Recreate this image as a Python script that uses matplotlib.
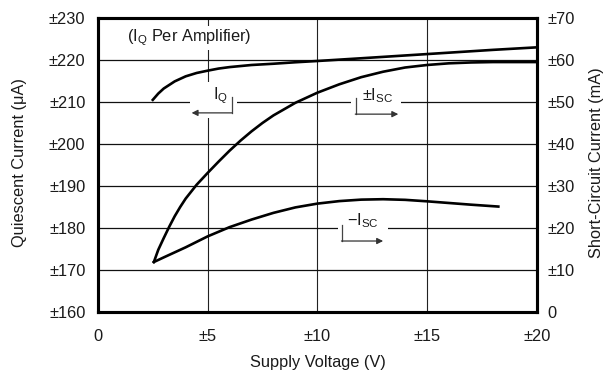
import matplotlib
matplotlib.use("Agg")
import matplotlib.pyplot as plt
from matplotlib.patches import Rectangle

plt.rcParams['font.family'] = ['Liberation Sans', 'DejaVu Sans']
plt.rcParams['mathtext.fontset'] = 'custom'
plt.rcParams['mathtext.rm'] = 'Liberation Sans'
plt.rcParams['mathtext.it'] = 'Liberation Sans'

# ---- data ----
iq_v = [2.5, 2.75, 3, 3.5, 4, 4.5, 5, 5.5, 6, 7, 8, 9, 10, 12, 15, 18, 20]
iq_ua = [210.5, 212.0, 213.2, 214.9, 216.1, 216.9, 217.45, 217.95, 218.3, 218.8, 219.1, 219.45, 219.75,
         220.4, 221.4, 222.4, 223.0]

isc_pos_v = [2.55, 2.75, 3.0, 3.25, 3.5, 3.75, 4.0, 4.5, 5, 5.5, 6, 6.5, 7, 7.5, 8, 9, 10, 11, 12, 13,
             14, 15, 16, 17, 18, 20]
isc_pos_ma = [11.9, 14.8, 17.6, 20.3, 22.8, 25.0, 27.0, 30.3, 33.1, 35.8, 38.4, 40.8, 43.0, 45.0, 46.8,
              49.8, 52.2, 54.2, 55.9, 57.2, 58.2, 58.8, 59.2, 59.4, 59.5, 59.5]

isc_neg_v = [2.55, 3, 3.5, 4, 4.5, 5, 6, 7, 8, 9, 10, 11, 12, 13, 14, 15, 16, 17, 18.25]
isc_neg_ma = [11.9, 13.0, 14.2, 15.4, 16.7, 18.0, 20.2, 22.0, 23.6, 24.9, 25.8, 26.4, 26.75, 26.85,
              26.7, 26.35, 25.95, 25.55, 25.1]

x_ticks = [0, 5, 10, 15, 20]
x_labels = ['0', '±5', '±10', '±15', '±20']
left_ticks = [160, 170, 180, 190, 200, 210, 220, 230]
left_labels = ['±160', '±170', '±180', '±190', '±200', '±210', '±220', '±230']
right_ticks = [0, 10, 20, 30, 40, 50, 60, 70]
right_labels = ['0', '±10', '±20', '±30', '±40', '±50', '±60', '±70']

txt = '#1a1a1a'
fs = 11.8

fig = plt.figure(figsize=(6.12, 3.77), dpi=100)
ax = fig.add_axes([0.160, 0.1724, 0.717, 0.780])
ax.set_xlim(0, 20)
ax.set_ylim(160, 230)
ax2 = ax.twinx()
ax2.set_ylim(0, 70)

# grid
for v in [5, 10, 15]:
    ax.axvline(v, color='#222222', lw=0.8, zorder=1)
for y in [170, 180, 190, 200, 210, 220]:
    ax.axhline(y, color='#111111', lw=0.9, zorder=1)

# white gaps behind labels
for (x0, x1, y0, y1) in [(4.19, 6.32, 206.2, 214.8), (11.55, 13.83, 206.5, 213.0)]:
    ax.add_patch(Rectangle((x0, y0), x1 - x0, y1 - y0, facecolor='white', edgecolor='none', zorder=2))
ax2.add_patch(Rectangle((10.94, 16.0), 13.22 - 10.94, 7.0, facecolor='white', edgecolor='none', zorder=2))

# curves
ax.plot(iq_v, iq_ua, color='black', lw=1.9, zorder=3)
ax2.plot(isc_pos_v, isc_pos_ma, color='black', lw=1.9, zorder=3)
ax2.plot(isc_neg_v, isc_neg_ma, color='black', lw=1.9, zorder=3)

# annotations
ax.text(1.32, 225.2, r'(I$_{\mathrm{Q}}$ Per Amplifier)', fontsize=fs, color=txt, va='center', ha='left',
        zorder=5, bbox=dict(facecolor='white', edgecolor='none', pad=1.0))
ax.text(5.6, 211.4, r'I$_{\mathrm{Q}}$', fontsize=fs, color=txt, va='center', ha='center', zorder=5)
ax.plot([6.09, 6.09], [211.2, 207.4], color='#444444', lw=0.9, zorder=5)
ax.annotate('', xy=(4.27, 207.4), xytext=(6.12, 207.4),
            arrowprops=dict(arrowstyle='-|>', color='#333333', lw=0.9, mutation_scale=9, shrinkA=0, shrinkB=0), zorder=5)

ax2.text(12.75, 51.5, r'±I$_{\mathrm{SC}}$', fontsize=fs, color=txt, va='center', ha='center', zorder=5)
ax2.plot([11.76, 11.76], [50.9, 47.1], color='#444444', lw=0.9, zorder=5)
ax2.annotate('', xy=(13.69, 47.1), xytext=(11.73, 47.1),
             arrowprops=dict(arrowstyle='-|>', color='#333333', lw=0.9, mutation_scale=9, shrinkA=0, shrinkB=0), zorder=5)

ax2.text(12.08, 21.8, r'−I$_{\mathrm{SC}}$', fontsize=fs, color=txt, va='center', ha='center', zorder=5)
ax2.plot([11.13, 11.13], [20.7, 16.9], color='#444444', lw=0.9, zorder=5)
ax2.annotate('', xy=(13.0, 16.9), xytext=(11.10, 16.9),
             arrowprops=dict(arrowstyle='-|>', color='#333333', lw=0.9, mutation_scale=9, shrinkA=0, shrinkB=0), zorder=5)

# ticks
ax.set_xticks(x_ticks)
ax.set_xticklabels(x_labels, fontsize=fs, color=txt)
ax.set_yticks(left_ticks)
ax.set_yticklabels(left_labels, fontsize=fs, color=txt)
ax2.set_yticks(right_ticks)
ax2.set_yticklabels(right_labels, fontsize=fs, color=txt)
ax.tick_params(axis='x', length=0, pad=12)
ax.tick_params(axis='y', length=0, pad=9)
ax2.tick_params(axis='y', length=0, pad=8)

for a in (ax, ax2):
    for s in a.spines.values():
        s.set_linewidth(2.2)
        s.set_color('black')

fig.text(318 / 612, (377 - 362) / 377, 'Supply Voltage (V)', fontsize=fs, color=txt, ha='center', va='center')
fig.text(20 / 612, (377 - 163) / 377, 'Quiescent Current (μA)', fontsize=fs, color=txt, ha='center',
         va='center', rotation=90)
fig.text(597 / 612, (377 - 163) / 377, 'Short-Circuit Current (mA)', fontsize=fs, color=txt, ha='center',
         va='center', rotation=90)

fig.savefig('out.png', dpi=100)
